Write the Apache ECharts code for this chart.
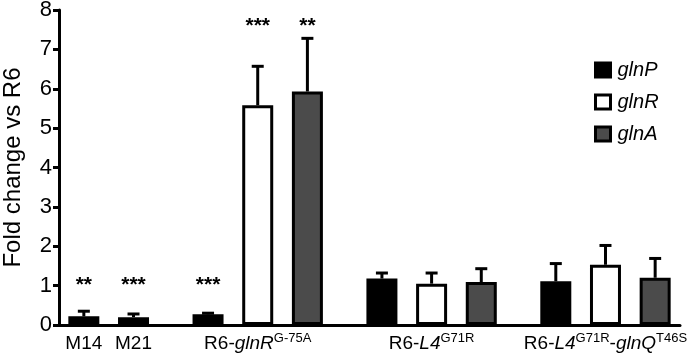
<!DOCTYPE html>
<html><head><meta charset="utf-8">
<script src="https://cdn.jsdelivr.net/npm/echarts@6/dist/echarts.min.js"></script>
<style>html,body{margin:0;padding:0;background:#fff}#c{width:689px;height:355px}</style>
</head><body><div id="c"></div>
<script>
// ---- data ----
const groups = ['M14', 'M21', 'R6-glnR G-75A', 'R6-L4 G71R', 'R6-L4 G71R-glnQ T46S'];
const groupLabels = [
  '{n|M14}',
  '{n|M21}',
  '{n|R6-}{i|glnR}{s|G-75A}',
  '{n|R6-}{i|L4}{s|G71R}',
  '{n|R6-}{i|L4}{s|G71R}{n|-}{i|glnQ}{s|T46S}'
];
const genes = ['glnP', 'glnR', 'glnA'];
const glnP = [0.22, 0.20, 0.27, 1.18, 1.11];
const glnR = [null, null, 5.58, 1.05, 1.53];
const glnA = [null, null, 5.93, 1.09, 1.20];
const errP = [0.13, 0.08, 0.03, 0.14, 0.45];
const errR = [null, null, 0.99, 0.27, 0.49];
const errA = [null, null, 1.35, 0.34, 0.49];
const sigP = ['**', '***', '***', '', ''];
const sigR = ['', '', '***', '', ''];
const sigA = ['', '', '**', '', ''];
const sigLevelP = [1.0, 1.0, 1.0, null, null];
const sigLevelR = [null, null, 7.6, null, null];
const sigLevelA = [null, null, 7.6, null, null];
const yTicks = [0, 1, 2, 3, 4, 5, 6, 7, 8];

// ---- layout (slot positions along x) ----
const groupStart = [0, 1, 2.5, 6, 9.5];
const values = [glnP, glnR, glnA];
const errs = [errP, errR, errA];
const sigs = [sigP, sigR, sigA];
const sigLevels = [sigLevelP, sigLevelR, sigLevelA];
const colors = ['#000000', '#ffffff', '#4b4b4b'];
const FONT = '"Liberation Sans", Arial, sans-serif';

const labelPos = groups.map((g, gi) => {
  const ps = [];
  values.forEach((v, si) => { if (v[gi] != null) ps.push(groupStart[gi] + si); });
  return ps.reduce((a, b) => a + b, 0) / ps.length;
});

function barData(si) {
  const out = [];
  values[si].forEach((v, gi) => { if (v != null) out.push([groupStart[gi] + si, v]); });
  return out;
}
function errData() {
  const out = [];
  values.forEach((vals, si) => vals.forEach((v, gi) => {
    if (v != null && errs[si][gi] != null) out.push([groupStart[gi] + si, v, errs[si][gi]]);
  }));
  return out;
}
const sigList = [];
sigs.forEach((arr, si) => arr.forEach((s, gi) => {
  if (s) sigList.push([groupStart[gi] + si, sigLevels[si][gi], s]);
}));

const series = genes.map((g, si) => ({
  name: g,
  type: 'bar',
  data: barData(si),
  barWidth: 31,
  barGap: '-100%',
  itemStyle: { color: colors[si], borderColor: '#000', borderWidth: 3 },
  silent: true,
  z: 2
}));
series.push({
  type: 'custom',
  data: errData(),
  z: 3,
  silent: true,
  renderItem: function (params, api) {
    const x = api.value(0), y = api.value(1), e = api.value(2);
    const b = api.coord([x, y]);
    const t = api.coord([x, y + e]);
    return {
      type: 'group',
      children: [
        { type: 'line', shape: { x1: b[0], y1: b[1], x2: t[0], y2: t[1] }, style: { stroke: '#000', lineWidth: 3 } },
        { type: 'line', shape: { x1: t[0] - 6, y1: t[1], x2: t[0] + 6, y2: t[1] }, style: { stroke: '#000', lineWidth: 3 } }
      ]
    };
  }
});
series.push({
  type: 'custom',
  data: sigList.map(d => [d[0], d[1]]),
  z: 4,
  silent: true,
  renderItem: function (params, api) {
    const c = api.coord([api.value(0), api.value(1)]);
    return {
      type: 'text', x: c[0], y: c[1],
      style: { text: sigList[params.dataIndex][2], fontSize: 21, fontWeight: 'bold', fontFamily: FONT, align: 'center', verticalAlign: 'middle', fill: '#000' }
    };
  }
});

const chart = echarts.init(document.getElementById('c'), null, { renderer: 'canvas' });
chart.setOption({
  animation: false,
  backgroundColor: '#fff',
  grid: { left: 59, right: 9, top: 10, bottom: 30, containLabel: false, outerBoundsMode: 'none' },
  legend: {
    orient: 'vertical',
    left: 589, top: 55,
    icon: 'rect',
    itemWidth: 15, itemHeight: 14, itemGap: 12,
    data: genes,
    textStyle: { fontFamily: FONT, fontSize: 20, fontStyle: 'italic', color: '#000', padding: [0, 0, 0, 2] },
    itemStyle: { borderColor: '#000', borderWidth: 3 },
    selectedMode: false
  },
  xAxis: {
    type: 'value',
    min: -0.5, max: 12, interval: 0.5,
    splitLine: { show: false },
    axisTick: { show: false },
    axisLine: { onZero: false, lineStyle: { color: '#000', width: 3 } },
    axisLabel: {
      margin: 6,
      showMinLabel: true, showMaxLabel: true,
      formatter: function (v) {
        for (let i = 0; i < labelPos.length; i++) if (Math.abs(labelPos[i] - v) < 1e-6) return groupLabels[i];
        return '';
      },
      rich: {
        n: { fontFamily: FONT, fontSize: 19, color: '#000', lineHeight: 22, verticalAlign: 'bottom' },
        i: { fontFamily: FONT, fontSize: 19, fontStyle: 'italic', color: '#000', lineHeight: 22, verticalAlign: 'bottom' },
        s: { fontFamily: FONT, fontSize: 13, color: '#000', lineHeight: 22, verticalAlign: 'top', padding: [1, 0, 0, 0] }
      }
    }
  },
  yAxis: {
    type: 'value',
    min: 0, max: 8, interval: 1,
    name: 'Fold change vs R6',
    nameLocation: 'middle',
    nameGap: 34,
    nameMoveOverlap: false,
    nameTextStyle: { fontFamily: FONT, fontSize: 24, color: '#000' },
    splitLine: { show: false },
    axisLine: { show: true, onZero: false, lineStyle: { color: '#000', width: 3 } },
    axisTick: { show: true, length: 6, lineStyle: { color: '#000', width: 3 } },
    axisLabel: {
      margin: 7, fontFamily: FONT, fontSize: 22, color: '#000',
      formatter: function (v) { return yTicks.indexOf(v) >= 0 ? String(v) : ''; }
    }
  },
  series: series
});
</script>
</body></html>
